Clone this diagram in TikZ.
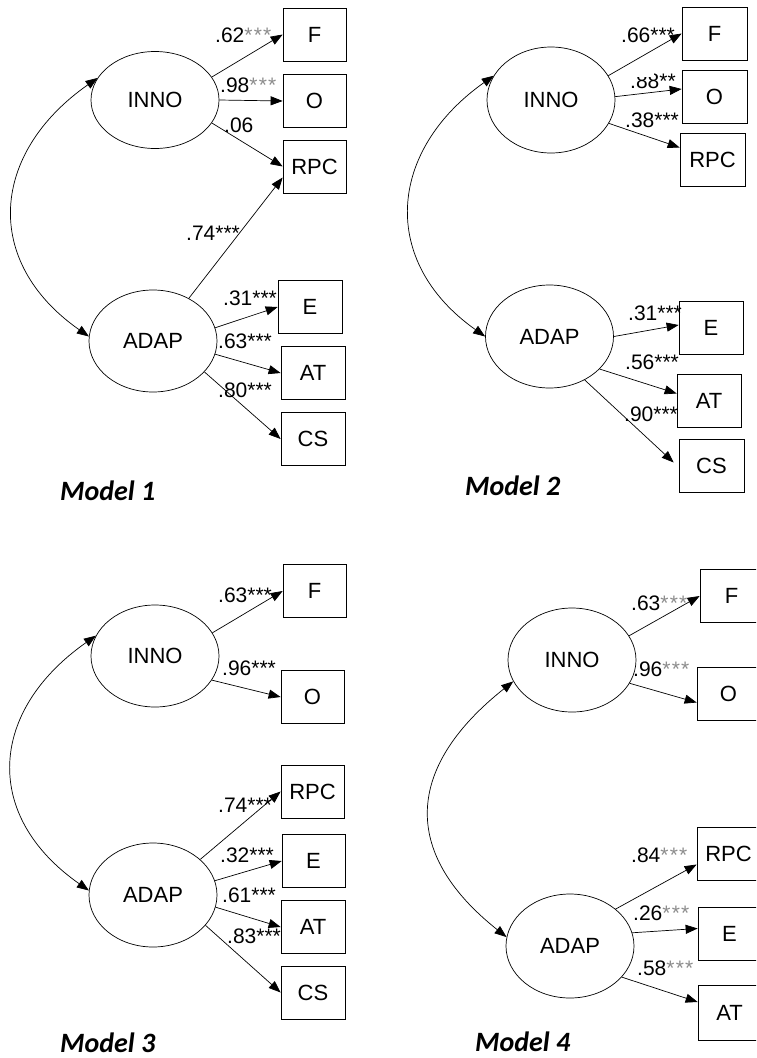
\documentclass[tikz,border=0pt]{standalone}
\usepackage{fontspec}
\setmainfont{Liberation Sans}
\newfontfamily\titlefont{Carlito}
\usetikzlibrary{shapes.geometric,arrows.meta}

% significance stars
\newcommand\gstars{{\color{black!45}*\kern1.2pt*\kern1.2pt*}}
\newcommand\bstars{***}

\tikzset{
  latent/.style={draw, ellipse, line width=0.7pt, minimum width=128pt,
    minimum height=102pt, inner sep=0pt, font=\fontsize{22}{26}\selectfont},
  indicator/.style={draw, rectangle, line width=0.7pt, minimum width=64pt,
    minimum height=53pt, inner sep=0pt, font=\fontsize{22}{26}\selectfont},
  tip/.tip={Triangle[length=12pt,width=9pt]},
  loading/.style={-tip, line width=0.7pt},
  covar/.style={tip-tip, line width=0.7pt},
  coef/.style={anchor=base west, inner sep=0pt, font=\fontsize{21}{24}\selectfont},
  modeltitle/.style={anchor=base west, inner sep=0pt,
    font=\titlefont\bfseries\itshape\fontsize{28}{32}\selectfont}
}

\begin{document}
\begin{tikzpicture}[x=1pt,y=-1pt]
\useasboundingbox (0,0) rectangle (756,1058);
\clip (0,0) rectangle (756,1058);

% ---------------- Model 1 ----------------
\node[latent, minimum height=97pt] (m1inno) at (155,100) {INNO};
\node[latent] (m1adap) at (153,341) {ADAP};
\node[indicator, minimum width=63pt] (m1F)   at (314.5,34.5) {F};
\node[indicator, minimum width=63pt] (m1O)   at (314.5,101)  {O};
\node[indicator, minimum width=63pt] (m1RPC) at (314.5,166.5) {RPC};
\node[indicator] (m1E)   at (310,307) {E};
\node[indicator] (m1AT)  at (313,373) {AT};
\node[indicator] (m1CS)  at (313,439) {CS};

\draw[covar] (m1inno.159) .. controls +(-107,75) and +(-107,-75) .. (m1adap.176);
\draw[loading] (m1inno.22) -- (m1F.west);
\draw[loading] (m1inno.0) -- (m1O.west);
\draw[loading] (m1inno.-22) -- (m1RPC.west);
\draw[loading] (m1adap.50) -- ([yshift=-11pt]m1RPC.west);
\draw[loading] (m1adap.12) -- (m1E.west);
\draw[loading] (m1adap.-12) -- (m1AT.west);
\draw[loading] (m1adap.-31) -- (m1CS.west);

\node[coef] (m1c1) at (215,42)  {.62\gstars};
\node[coef] (m1c2) at (220,92)  {.98\gstars};
\node[coef] (m1c3) at (224,132) {.06};
\node[coef] (m1c4) at (186,240) {.74\bstars};
\node[coef] (m1c5) at (223,305) {.31\bstars};
\node[coef] (m1c6) at (218,348) {.63\bstars};
\node[coef] (m1c7) at (218,397) {.80\bstars};

\node[modeltitle] (m1title) at (60,500) {Model 1};

% ---------------- Model 2 ----------------
\node[latent, minimum height=106pt] (m2inno) at (551,100) {INNO};
\node[latent, minimum height=103pt] (m2adap) at (549.5,336.5) {ADAP};
\node[indicator, minimum width=65pt] (m2F)   at (714.5,33.5) {F};
\node[indicator, minimum width=65pt] (m2O)   at (714.5,97)   {O};
\node[indicator, minimum width=65pt] (m2RPC) at (712.5,159.5) {RPC};
\node[indicator] (m2E)   at (711,328)    {E};
\node[indicator] (m2AT)  at (709,400.5)  {AT};
\node[indicator, minimum width=65pt] (m2CS)  at (711.5,465.5) {CS};

\draw[covar] (m2inno.157) .. controls +(-106,75) and +(-106,-75) .. (m2adap.180);
\draw[loading] (m2inno.23) -- (m2F.west);
\draw[loading] (m2inno.3) -- ([yshift=8pt]m2O.west);
\draw[loading] (m2inno.-22) -- ([yshift=12pt]m2RPC.west);
\draw[loading] (m2adap.0) -- ([yshift=3pt]m2E.west);
\draw[loading] (m2adap.-33) -- ([yshift=7pt]m2AT.west);
\draw[loading] (m2adap.-51) -- ([xshift=-5pt,yshift=3pt]m2CS.west);

\node[coef] (m2c1) at (621,42)  {.66\bstars};
% the tops of the digits are cut off
\begin{scope}
  \clip (600,77) -| (654,68) -| (690,100) -| cycle;
  \node[coef] (m2c2) at (630,88)  {.88**};
\end{scope}
\node[coef] (m2c3) at (625,127) {.38\bstars};
\node[coef] (m2c4) at (628,320) {.31\bstars};
\node[coef] (m2c5) at (625,369) {.56\bstars};
\node[coef] (m2c6) at (624,421) {.90\bstars};

\node[modeltitle] (m2title) at (465,495) {Model 2};

% ---------------- Model 3 ----------------
\node[latent] (m3inno) at (155,656) {INNO};
\node[latent, minimum height=104pt] (m3adap) at (153,895) {ADAP};
\node[indicator, minimum width=63pt] (m3F)   at (314.5,591) {F};
\node[indicator, minimum width=63pt] (m3O)   at (312.5,697) {O};
\node[indicator, minimum width=63pt] (m3RPC) at (312.5,791.5) {RPC};
\node[indicator, minimum width=63pt] (m3E)   at (313.5,861) {E};
\node[indicator] (m3AT)  at (313,927) {AT};
\node[indicator] (m3CS)  at (313,992.5) {CS};

\draw[covar] (m3inno.161) .. controls +(-107,75) and +(-107,-75) .. (m3adap.176);
\draw[loading] (m3inno.22) -- (m3F.west);
\draw[loading] (m3inno.-23) -- (m3O.west);
\draw[loading] (m3adap.37) -- (m3RPC.west);
\draw[loading] (m3adap.13) -- (m3E.west);
\draw[loading] (m3adap.-11) -- (m3AT.west);
\draw[loading] (m3adap.-30) -- (m3CS.west);

\node[coef] (m3c1) at (218,602) {.63\bstars};
\node[coef] (m3c2) at (222,675) {.96\bstars};
\node[coef] (m3c3) at (218,812) {.74\bstars};
\node[coef] (m3c4) at (220,862) {.32\bstars};
\node[coef] (m3c5) at (222,902) {.61\bstars};
\node[coef] (m3c6) at (227,943) {.83\bstars};

\node[modeltitle] (m3title) at (60,1052) {Model 3};

% ---------------- Model 4 ----------------
\node[latent, minimum height=104pt] (m4inno) at (572,660) {INNO};
\node[latent, minimum height=104pt] (m4adap) at (570,946) {ADAP};
\node[indicator, minimum width=63pt] (m4F)   at (731.5,596)   {F};
\node[indicator, minimum width=63pt] (m4O)   at (728.5,693.5) {O};
\node[indicator, minimum width=63pt] (m4RPC) at (728.5,853.5) {RPC};
\node[indicator, minimum width=63pt] (m4E)   at (729.5,933.5) {E};
\node[indicator, minimum width=63pt, minimum height=55pt] (m4AT) at (729.5,1013) {AT};

\draw[covar] (m4inno.200) .. controls +(-107,85) and +(-107,-85) .. (m4adap.172);
\draw[loading] (m4inno.23) -- (m4F.west);
\draw[loading] (m4inno.-22) -- ([yshift=-9pt]m4O.west);
\draw[loading] (m4adap.39) -- ([yshift=-11pt]m4RPC.west);
\draw[loading] (m4adap.12) -- ([yshift=5pt]m4E.west);
\draw[loading] (m4adap.-31) -- ([yshift=11pt]m4AT.west);

\node[coef] (m4c1) at (631,610) {.63\gstars};
\node[coef] (m4c2) at (633,676) {.96\gstars};
\node[coef] (m4c3) at (631,862) {.84\gstars};
\node[coef] (m4c4) at (633,920) {.26\gstars};
\node[coef] (m4c5) at (637,975) {.58\gstars};

\node[modeltitle] (m4title) at (475,1051) {Model 4};
\end{tikzpicture}
\end{document}
